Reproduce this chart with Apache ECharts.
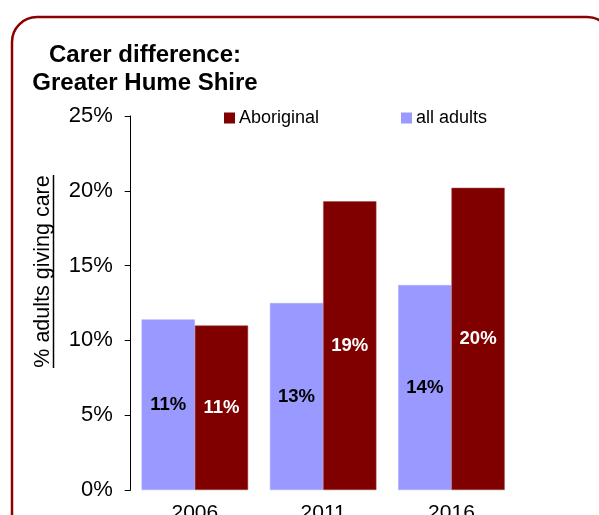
<!DOCTYPE html>
<html>
<head>
<meta charset="utf-8">
<script src="https://cdn.jsdelivr.net/npm/echarts@6/dist/echarts.min.js"></script>
<style>
html,body{margin:0;padding:0;background:#fff;}
#chart{width:599px;height:515px;}
</style>
</head>
<body>
<div id="chart"></div>
<script>
const categories = ['2006', '2011', '2016'];
const allAdults = [11.4, 12.5, 13.7];
const aboriginal = [11.0, 19.3, 20.2];
const yTicks = [0, 5, 10, 15, 20, 25];
const titleText = 'Carer difference:\nGreater Hume Shire';
const yName = '% adults giving care';

const chart = echarts.init(document.getElementById('chart'), null, {renderer: 'canvas'});
const FONT = 'Liberation Sans, Arial, sans-serif';

chart.setOption({
  animation: false,
  backgroundColor: '#fff',
  title: {
    text: titleText,
    left: 140,
    top: 36,
    textAlign: 'center',
    textStyle: {fontFamily: FONT, fontWeight: 'bold', fontSize: 24, lineHeight: 28, color: '#000'}
  },
  legend: [
    {
      data: ['Aboriginal'], left: 224, top: 109, padding: 0, icon: 'rect', itemWidth: 11, itemHeight: 11,
      itemStyle: {borderWidth: 0},
      textStyle: {fontFamily: FONT, fontSize: 18, color: '#000', padding: [0,0,0,-1]}
    },
    {
      data: ['all adults'], left: 401, top: 109, padding: 0, icon: 'rect', itemWidth: 11, itemHeight: 11,
      itemStyle: {borderWidth: 0},
      textStyle: {fontFamily: FONT, fontSize: 18, color: '#000', padding: [0,0,0,-1]}
    }
  ],
  grid: {left: 130.7, right: 83.4, top: 116, bottom: 25, containLabel: false, outerBoundsMode: 'none'},
  xAxis: {
    type: 'category',
    data: categories,
    axisLine: {show: false},
    axisTick: {show: false},
    axisLabel: {fontFamily: FONT, fontSize: 21, color: '#000', margin: 13}
  },
  yAxis: {
    type: 'value',
    min: yTicks[0],
    max: yTicks[yTicks.length - 1],
    interval: 5,
    axisLine: {show: true, lineStyle: {color: '#000', width: 1}},
    axisTick: {show: true, inside: false, length: 6, lineStyle: {color: '#000'}},
    splitLine: {show: false},
    axisLabel: {fontFamily: FONT, fontSize: 22, color: '#000', margin: 18, formatter: '{value}%'}
  },
  series: [
    {
      name: 'all adults',
      type: 'bar',
      data: allAdults,
      barGap: '0%',
      barCategoryGap: '17%',
      itemStyle: {color: '#9999FF', borderColor: '#A8A8FF', borderWidth: 0.5},
      label: {
        show: true, position: 'inside', color: '#000',
        fontFamily: FONT, fontWeight: 'bold', fontSize: 18.5,
        formatter: p => Math.round(p.value) + '%'
      }
    },
    {
      name: 'Aboriginal',
      type: 'bar',
      data: aboriginal,
      barGap: '0%',
      barCategoryGap: '17%',
      itemStyle: {color: '#800000', borderColor: '#A04848', borderWidth: 0.5},
      label: {
        show: true, position: 'inside', color: '#fff',
        fontFamily: FONT, fontWeight: 'bold', fontSize: 18.5,
        formatter: p => Math.round(p.value) + '%'
      }
    }
  ],
  graphic: [
    {
      type: 'rect',
      shape: {x: 12, y: 17, width: 600, height: 600, r: 25},
      style: {fill: 'none', stroke: '#8E0000', lineWidth: 2.5},
      z: 100
    },
    {
      type: 'text',
      x: 43,
      y: 271.5,
      rotation: Math.PI / 2,
      style: {
        text: yName, fontFamily: FONT, fontSize: 21.5, fill: '#000',
        textAlign: 'center', textVerticalAlign: 'middle'
      }
    },
    {
      type: 'line',
      shape: {x1: 53.5, y1: 175, x2: 53.5, y2: 368},
      style: {stroke: '#000', lineWidth: 1.5}
    }
  ]
});
</script>
</body>
</html>
